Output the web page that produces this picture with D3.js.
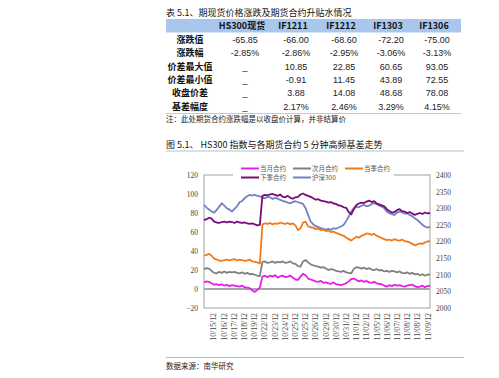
<!DOCTYPE html>
<html>
<head>
<meta charset="utf-8">
<script src="https://cdn.jsdelivr.net/npm/d3@7"></script>
<style>
  body { margin: 0; background: #fff; }
  svg { display: block; }
</style>
</head>
<body>
<script>
// table data
var tableTitle = "表 5.1、期现货价格涨跌及期货合约升贴水情况";
var tableCols = ["HS300现货", "IF1211", "IF1212", "IF1303", "IF1306"];
var rowLabels = ["涨跌值", "涨跌幅", "价差最大值", "价差最小值", "收盘价差", "基差幅度"];
var rowChange = ["-65.85", "-66.00", "-68.60", "-72.20", "-75.00"];
var rowChangePct = ["-2.85%", "-2.86%", "-2.95%", "-3.06%", "-3.13%"];
var rowMaxSpread = ["_", "10.85", "22.85", "60.65", "93.05"];
var rowMinSpread = ["_", "-0.91", "11.45", "43.89", "72.55"];
var rowCloseSpread = ["_", "3.88", "14.08", "48.68", "78.08"];
var rowBasisPct = ["_", "2.17%", "2.46%", "3.29%", "4.15%"];
var tableNote = "注：此处期货合约涨跌幅是以收盘价计算，并非结算价";

// chart data
var chartTitle = "图 5.1、 HS300 指数与各期货合约 5 分钟高频基差走势";
var source = "数据来源：南华研究";
var dates = ["10/15/12", "10/16/12", "10/17/12", "10/18/12", "10/19/12", "10/22/12", "10/23/12",
  "10/24/12", "10/25/12", "10/25/12", "10/26/12", "10/29/12", "10/30/12", "10/31/12", "11/01/12",
  "11/02/12", "11/05/12", "11/06/12", "11/07/12", "11/08/12", "11/08/12", "11/09/12"];
var leftTicks = [-20, 0, 20, 40, 60, 80, 100, 120];
var rightTicks = [2000, 2050, 2100, 2150, 2200, 2250, 2300, 2350, 2400];

var curMonth = [7, 8, 7.5, 6, 4.5, 5, 4, 5, 3.5, 4.5, 3, 4, 3.5, 3, 2.5, 3.5, 2, 1.5, 1, -1.5, -3, -1, 1.5,
  13, 14, 12.5, 14, 13, 14.5, 12, 13.5, 14, 12.5, 13, 14, 12, 10, 9.5, 13, 16, 14.5, 11, 10,
  9, 8, 7.5, 8.5, 6.5, 7, 6, 5.5, 7, 5, 4.5, 4, 5, 6, 8, 10.5, 11, 9.5, 8, 9, 7.5, 8.5,
  7, 6.5, 7.5, 6, 5.5, 5, 3.5, 2.5, 4, 3, 4.5, 3.5, 4, 3, 2.5, 3.5, 4, 4.5, 3, 2, 2.5, 3.5, 2, 3, 3.5];
var nextMonth = [21, 22, 21.5, 19, 17, 16.5, 18, 17, 18.5, 17, 18, 17.5, 18, 17, 16.5, 17.5, 16, 17, 15.5, 16, 15, 14, 13.5,
  28.5, 29, 27.5, 28, 29, 27.5, 28.5, 28, 29, 27.5, 28, 29, 27, 26.5, 24, 23.5, 29, 30.5, 28, 26,
  25, 24, 23.5, 22.5, 23, 21.5, 20, 21, 20.5, 19, 18.5, 18, 19, 17.5, 17, 16.5, 21, 23, 22.5, 21.5, 22.5,
  21, 22, 20.5, 20, 21, 19.5, 20, 18.5, 19, 18, 19, 18.5, 17.5, 18.5, 17, 16.5, 17.5, 16, 17, 15.5, 16, 14.5, 15.5, 14, 15, 15.5];
var curQuarter = [35, 36, 37, 35, 32, 31, 30, 29.5, 30.5, 31, 30, 31, 31.5, 30, 31, 30.5, 29.5, 30, 31, 29, 28.5, 28, 27,
  68, 69, 68.5, 69.5, 68, 69, 68.5, 70, 69, 68.5, 69.5, 68, 69, 67, 62, 64, 70, 71, 66, 65,
  64.5, 63, 63.5, 62, 62.5, 61, 61.5, 60, 60.5, 59, 58, 57, 56, 54, 52.5, 51, 53, 55, 54, 56, 57,
  58.5, 58, 57, 58, 56, 55, 53.5, 52.5, 51.5, 52, 51, 52.5, 51.5, 51, 52, 50.5, 50, 49, 47.5, 46, 47, 48, 47.5, 49, 50, 50.5];
var nextQuarter = [72.5, 73.5, 75, 74, 71, 70, 69.5, 70.5, 71, 70, 71, 70.5, 69.5, 71, 70, 69.5, 70, 69, 68.5, 69, 68, 67, 67.5,
  98, 99, 98.5, 99.5, 100, 99, 98, 99.5, 97, 96.5, 98, 96, 95, 96.5, 97, 99.5, 100.5, 99, 98, 97,
  95.5, 94, 94.5, 93, 92.5, 92, 91, 91.5, 90, 89.5, 88, 87.5, 86, 85.5, 81, 78.5, 84, 88.5, 90, 91, 90.5,
  92, 93, 91.5, 92.5, 90, 89, 88, 87, 84, 82, 80.5, 81, 83, 84, 82, 81.5, 80, 81, 79.5, 78, 79, 80, 79, 80.5, 79.5, 80];
var hs300 = [2310, 2302, 2296, 2290, 2287, 2295, 2305, 2315, 2308, 2300, 2296, 2290, 2298, 2306, 2318, 2322, 2330, 2336, 2340, 2338, 2341, 2337, 2336,
  2332, 2330, 2334, 2333, 2328, 2331, 2329, 2325, 2322, 2320, 2317, 2315, 2319, 2321, 2318, 2316, 2313, 2300, 2280, 2260,
  2252, 2246, 2243, 2240, 2238, 2236, 2238, 2235, 2240, 2238, 2242, 2245, 2250, 2262, 2275, 2290, 2300, 2305, 2303, 2308, 2310,
  2306, 2308, 2312, 2315, 2313, 2308, 2305, 2300, 2290, 2285, 2282, 2280, 2287, 2290, 2288, 2284, 2285, 2280, 2276, 2270, 2265, 2258, 2250, 2245, 2242, 2244];

var seriesNames = ["当月合约", "次月合约", "当季合约", "下季合约", "沪深300"];
var seriesColors = ["#ea1cea", "#808080", "#f07a1c", "#7a0a78", "#7182c4"];

var W = 499, H = 378;
var svg = d3.select("body").append("svg").attr("width", W).attr("height", H);
svg.append("rect").attr("width", W).attr("height", H).attr("fill", "#fff");

var sans = "'Noto Sans CJK SC', 'Liberation Sans', Arial, sans-serif";
var serif = "'Liberation Serif', 'DejaVu Serif', serif";

// ---- table ----
svg.append("text").attr("x", 166).attr("y", 16).attr("font-family", sans)
  .attr("font-size", 9).attr("fill", "#111").text(tableTitle);

svg.append("rect").attr("x", 166).attr("y", 19).attr("width", 295).attr("height", 13.5)
  .attr("fill", "#a9c7ec");

var colX = d3.scaleOrdinal().domain(d3.range(5)).range([245, 296, 344, 391, 437]);
var rowY = d3.scalePoint().domain(d3.range(6)).range([39.5, 106.7]);

svg.selectAll(".colhead").data(tableCols).enter().append("text")
  .attr("x", function(d, i) { return colX(i) - 3; })
  .attr("y", 26).attr("dy", "0.35em")
  .attr("text-anchor", "middle").attr("font-family", sans).attr("font-weight", "bold")
  .attr("font-size", 9).attr("fill", "#111").text(function(d) { return d; });

var rows = [rowChange, rowChangePct, rowMaxSpread, rowMinSpread, rowCloseSpread, rowBasisPct];

svg.selectAll(".rowlabel").data(rowLabels).enter().append("text")
  .attr("x", 190).attr("y", function(d, i) { return rowY(i); }).attr("dy", "0.35em")
  .attr("text-anchor", "middle").attr("font-family", sans).attr("font-weight", "bold")
  .attr("font-size", 9).attr("fill", "#111").text(function(d) { return d; });

rows.forEach(function(r, ri) {
  svg.selectAll(".cell" + ri).data(r).enter().append("text")
    .attr("x", function(d, i) { return colX(i); })
    .attr("y", rowY(ri)).attr("dy", "0.35em")
    .attr("text-anchor", "middle").attr("font-family", "'Liberation Sans', Arial, sans-serif")
    .attr("font-size", 9).attr("fill", "#222").text(function(d) { return d; });
});

svg.append("line").attr("x1", 166).attr("x2", 461).attr("y1", 113.5).attr("y2", 113.5)
  .attr("stroke", "#b8cbd6").attr("stroke-width", 1);
svg.append("text").attr("x", 166).attr("y", 122).attr("font-family", sans)
  .attr("font-size", 7.5).attr("fill", "#222").text(tableNote);

// ---- chart ----
svg.append("text").attr("x", 166).attr("y", 148).attr("font-family", sans)
  .attr("font-size", 9).attr("fill", "#111").text(chartTitle);
svg.append("line").attr("x1", 166).attr("x2", 464).attr("y1", 151).attr("y2", 151)
  .attr("stroke", "#a9c4cf").attr("stroke-width", 1.2);

var plotL = 204, plotR = 430, plotT = 175, plotB = 308;
var x = d3.scaleLinear().domain([0, hs300.length - 1]).range([plotL, plotR]);
var yL = d3.scaleLinear().domain([-20, 120]).range([plotB, plotT]);
var yR = d3.scaleLinear().domain([2000, 2400]).range([plotB, plotT]);
var xLab = d3.scalePoint().domain(d3.range(dates.length)).range([213.3, 427.7]);

// frame
svg.append("rect").attr("x", plotL).attr("y", plotT).attr("width", plotR - plotL).attr("height", plotB - plotT)
  .attr("fill", "none").attr("stroke", "#a0a0a0").attr("stroke-width", 1);

var gL = svg.append("g").attr("transform", "translate(" + plotL + ",0)")
  .call(d3.axisLeft(yL).tickValues(leftTicks).tickSize(0).tickPadding(6));
gL.select(".domain").remove();
gL.selectAll("text").attr("font-family", serif).attr("font-size", 7.5).attr("fill", "#444");

var gR = svg.append("g").attr("transform", "translate(" + plotR + ",0)")
  .call(d3.axisRight(yR).tickValues(rightTicks).tickSize(0).tickPadding(6).tickFormat(d3.format("d")));
gR.select(".domain").remove();
gR.selectAll("text").attr("font-family", serif).attr("font-size", 7.5).attr("fill", "#444");

var gX = svg.append("g").attr("transform", "translate(0," + plotB + ")")
  .call(d3.axisBottom(xLab).tickSize(0).tickFormat(function(i) { return dates[i]; }));
gX.select(".domain").remove();
gX.selectAll("text").attr("transform", "rotate(-90)").attr("x", -5).attr("y", 0).attr("dy", "0.32em")
  .attr("text-anchor", "end").attr("font-family", serif).attr("font-size", 7.8).attr("fill", "#444");

// zero baseline
svg.append("line").attr("x1", plotL).attr("x2", plotR).attr("y1", yL(0)).attr("y2", yL(0))
  .attr("stroke", "#a6a6a6").attr("stroke-width", 2);

var lineL = d3.line().x(function(d, i) { return x(i); }).y(function(d) { return yL(d); });
var lineR = d3.line().x(function(d, i) { return x(i); }).y(function(d) { return yR(d); });

svg.append("path").datum(hs300).attr("d", lineR).attr("fill", "none")
  .attr("stroke", seriesColors[4]).attr("stroke-width", 1.8);
[curMonth, nextMonth, curQuarter, nextQuarter].forEach(function(s, k) {
  svg.append("path").datum(s).attr("d", lineL).attr("fill", "none")
    .attr("stroke", seriesColors[k]).attr("stroke-width", 1.8).attr("stroke-linejoin", "round");
});

// legend (covers middle of top border)
svg.append("rect").attr("x", 233).attr("y", 162).attr("width", 161).attr("height", 19).attr("fill", "#fff");
var legPos = [[241, 168.5], [293, 168.5], [345, 168.5], [241, 177.5], [293, 177.5]];
var leg = svg.selectAll(".leg").data(seriesNames).enter().append("g")
  .attr("transform", function(d, i) { return "translate(" + legPos[i][0] + "," + legPos[i][1] + ")"; });
leg.append("line").attr("x1", 0).attr("x2", 18).attr("stroke", function(d, i) { return seriesColors[i]; })
  .attr("stroke-width", 2);
leg.append("text").attr("x", 19).attr("dy", "0.35em").attr("font-family", sans)
  .attr("font-size", 6.5).attr("fill", "#555").text(function(d) { return d; });

// source
svg.append("line").attr("x1", 166).attr("x2", 464).attr("y1", 357.5).attr("y2", 357.5)
  .attr("stroke", "#a9c4cf").attr("stroke-width", 1.2);
svg.append("text").attr("x", 166).attr("y", 366).attr("dy", "0.35em").attr("font-family", sans)
  .attr("font-size", 7.5).attr("fill", "#222").text(source);
</script>
</body>
</html>
